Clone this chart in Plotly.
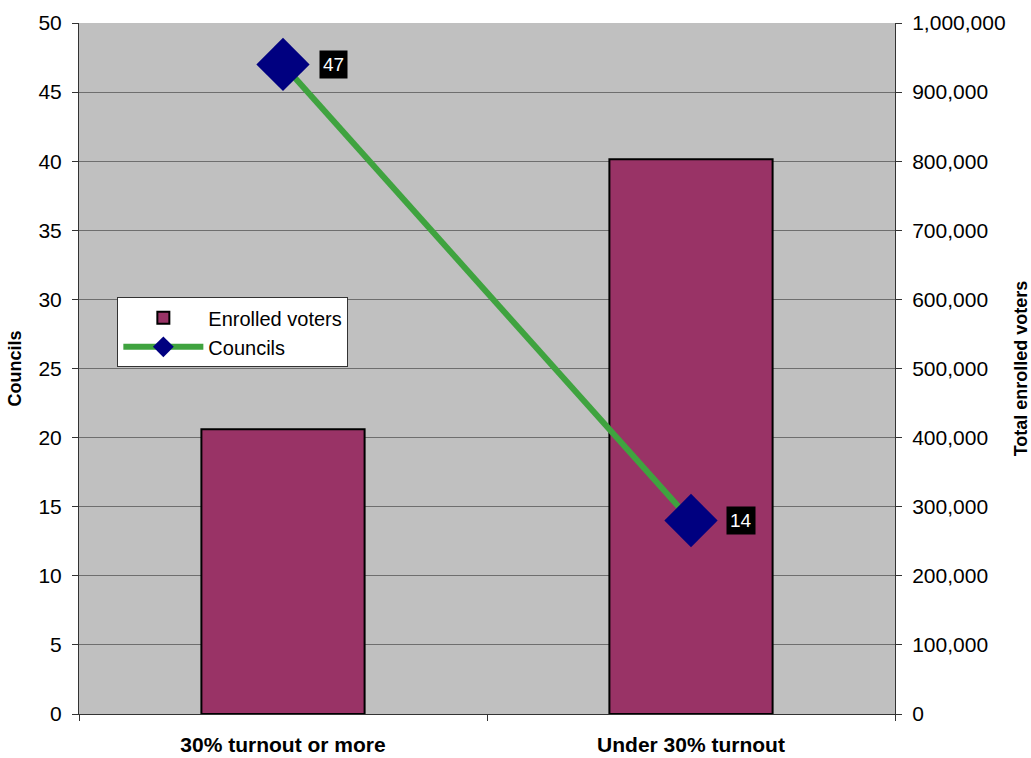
import plotly.graph_objects as go

categories = ["30% turnout or more", "Under 30% turnout"]
enrolled_voters = [412000, 803000]
councils = [47, 14]

FONT = "Arial, Liberation Sans, sans-serif"

fig = go.Figure()
fig.add_trace(go.Bar(
    x=categories, y=enrolled_voters, name="Enrolled voters", yaxis="y",
    width=0.40, marker=dict(color="#993366", line=dict(color="#000000", width=2)),
))
fig.add_trace(go.Scatter(
    x=categories, y=councils, name="Councils", yaxis="y2", mode="lines+markers",
    line=dict(color="#3FA33F", width=6),
    marker=dict(symbol="diamond", size=41, color="#000080"),
))

for c, v in zip(categories, councils):
    fig.add_annotation(x=c, y=v, xref="x", yref="y2", text=str(v), showarrow=False,
                       xshift=50, font=dict(color="white", size=19, family=FONT),
                       bgcolor="black", borderpad=3)

fig.update_layout(
    width=1031, height=758,
    margin=dict(l=79, r=136, t=23, b=44),
    paper_bgcolor="white", plot_bgcolor="#C0C0C0",
    font=dict(family=FONT, size=19, color="black"),
    showlegend=True,
    legend=dict(x=0.047, y=0.603, xanchor="left", yanchor="top",
                bgcolor="white", bordercolor="#333333", borderwidth=1,
                font=dict(size=20, family=FONT), itemwidth=80),
    xaxis=dict(type="category", showline=True, linecolor="#333333", linewidth=1,
               ticks="outside", tickson="boundaries", ticklen=6, tickcolor="#333333",
               ticklabelstandoff=12, automargin=False,
               tickfont=dict(size=21, family=FONT, weight="bold"), showgrid=False),
    yaxis=dict(range=[0, 1000000], dtick=100000, side="right",
               showline=True, linecolor="#333333", linewidth=1,
               ticks="outside", ticklen=6, tickcolor="#333333",
               ticklabelstandoff=6, automargin=False,
               gridcolor="#6E6E6E", gridwidth=1, zeroline=False, tickformat=",",
               title=dict(text="<b>Total enrolled voters</b>", font=dict(size=18, family=FONT), standoff=14),
               tickfont=dict(size=21, family=FONT)),
    yaxis2=dict(range=[0, 50], dtick=5, overlaying="y", side="left",
                showline=True, linecolor="#333333", linewidth=1,
                ticks="outside", ticklen=6, tickcolor="#333333",
                ticklabelstandoff=6, automargin=False,
                showgrid=False, zeroline=False,
                title=dict(text="<b>Councils</b>", font=dict(size=18, family=FONT), standoff=12),
                tickfont=dict(size=21, family=FONT)),
)

fig.write_html("out.html")
